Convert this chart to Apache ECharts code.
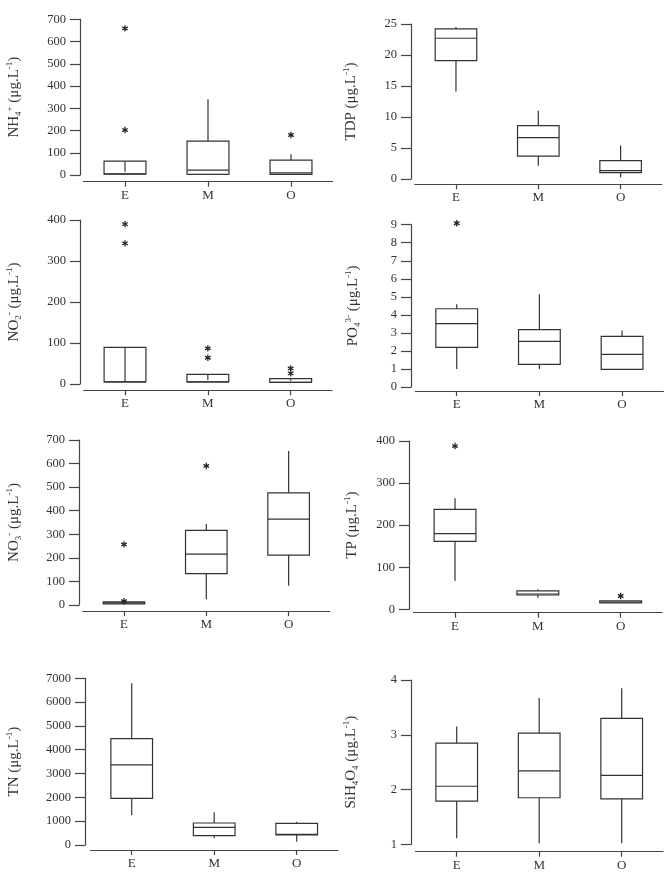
<!DOCTYPE html>
<html>
<head>
<meta charset="utf-8">
<script src="https://cdn.jsdelivr.net/npm/echarts@6/dist/echarts.min.js"></script>
<style>
html,body{margin:0;padding:0;background:#fff;}
#chart{width:667px;height:884px;}
</style>
</head>
<body>
<div id="chart"></div>
<script>
// ---- data ----
const categories = ['E', 'M', 'O'];
// box values per category: [min, Q1, median, Q3, max]
const nh4Box = [[3, 4, 5, 62, 62], [2, 3, 22, 152, 340], [3, 3, 10, 67, 93]];
const nh4Out = [['E', 659], ['E', 202], ['O', 180]];
const nh4Inner = [['E', 15, 62]];

const tdpBox = [[14.1, 19.1, 22.7, 24.2, 24.5], [2.15, 3.7, 6.66, 8.6, 11.0], [0.27, 1.02, 1.34, 2.95, 5.4]];
const tdpOut = [];
const tdpInner = [];

const no2Box = [[5, 5, 5, 89.5, 89.5], [5, 5, 5, 23.6, 23.6], [4, 4, 4, 13, 13]];
const no2Out = [['E', 390], ['E', 343], ['M', 87], ['M', 64], ['O', 38], ['O', 26]];
const no2Inner = [['E', 5, 89.5], ['M', 10, 23.6], ['O', 8, 13]];

const po4Box = [[1.0, 2.2, 3.51, 4.34, 4.59], [1.0, 1.26, 2.53, 3.18, 5.14], [0.98, 0.98, 1.81, 2.81, 3.14]];
const po4Out = [['E', 9.08]];
const po4Inner = [];

const no3Box = [[5, 5, 9, 13, 13], [24, 133, 216, 317, 344], [82, 212, 364, 476, 653]];
const no3Out = [['E', 257], ['E', 16], ['M', 590]];
const no3Inner = [];

const tpBox = [[68, 161.6, 179.7, 237.6, 263.8], [27.6, 34, 36.4, 44, 47.5], [15, 15, 17, 20, 20]];
const tpOut = [['E', 388], ['O', 31.6]];
const tpInner = [];

const tnBox = [[1261, 1961, 3361, 4466, 6793], [280, 392, 742, 924, 1373], [140, 420, 448, 910, 980]];
const tnOut = [];
const tnInner = [];

const siBox = [[1.11, 1.79, 2.06, 2.846, 3.15], [1.02, 1.85, 2.34, 3.03, 3.67], [1.02, 1.83, 2.26, 3.30, 3.85]];
const siOut = [];
const siInner = [];

// axis ranges: [min, max, interval]
const nh4Range = [0, 700, 100];
const tdpRange = [0, 25, 5];
const no2Range = [0, 400, 100];
const po4Range = [0, 9, 1];
const no3Range = [0, 700, 100];
const tpRange = [0, 400, 100];
const tnRange = [0, 7000, 1000];
const siRange = [1, 4, 1];

const UNIT = ' (μg.L{sup|-1})';
const nh4Name = 'NH{sub|4}{sup|+}' + UNIT;
const tdpName = 'TDP' + UNIT;
const no2Name = 'NO{sub|2}{sup|-}' + UNIT;
const po4Name = 'PO{sub|4}{sup|3-}' + UNIT;
const no3Name = 'NO{sub|3}{sup|-}' + UNIT;
const tpName = 'TP' + UNIT;
const tnName = 'TN' + UNIT;
const siName = 'SiH{sub|4}O{sub|4}' + UNIT;

// ---- layout ----
const panels = [
  {name: nh4Name, box: nh4Box, out: nh4Out, inner: nh4Inner, range: nh4Range, grid: {left: 83.5, top: 19.3, width: 249, height: 155.7}, yOff: 3.5, xOff: 6.7, gap: 57},
  {name: tdpName, box: tdpBox, out: tdpOut, inner: tdpInner, range: tdpRange, grid: {left: 414.8, top: 24, width: 247, height: 155}, yOff: 3.8, xOff: 5.3, gap: 51},
  {name: no2Name, box: no2Box, out: no2Out, inner: no2Inner, range: no2Range, grid: {left: 83.6, top: 220, width: 248.5, height: 164}, yOff: 3.6, xOff: 6.3, gap: 57},
  {name: po4Name, box: po4Box, out: po4Out, inner: po4Inner, range: po4Range, grid: {left: 415.4, top: 224.7, width: 248, height: 162.3}, yOff: 4.4, xOff: 4, gap: 49},
  {name: no3Name, box: no3Box, out: no3Out, inner: no3Inner, range: no3Range, grid: {left: 82.8, top: 440, width: 247, height: 165}, yOff: 3.8, xOff: 6, gap: 56},
  {name: tpName, box: tpBox, out: tpOut, inner: tpInner, range: tpRange, grid: {left: 413.6, top: 441, width: 248.5, height: 168.3}, yOff: 4.6, xOff: 3.4, gap: 48},
  {name: tnName, box: tnBox, out: tnOut, inner: tnInner, range: tnRange, grid: {left: 90.45, top: 678.3, width: 247.5, height: 166.7}, yOff: 5.5, xOff: 5, gap: 62},
  {name: siName, box: siBox, out: siOut, inner: siInner, range: siRange, grid: {left: 415.45, top: 680, width: 247.5, height: 164.3}, yOff: 4.5, xOff: 7.4, gap: 51}
];

const FONT = 'Liberation Serif';
const AXIS_COLOR = '#444';
const TEXT_COLOR = '#333';
const LINE_COLOR = '#333';

function boxRender(params, api) {
  const c = api.value(0);
  const mn = api.value(1), q1 = api.value(2), md = api.value(3), q3 = api.value(4), mx = api.value(5);
  const pQ1 = api.coord([c, q1]);
  const pQ3 = api.coord([c, q3]);
  const pMd = api.coord([c, md]);
  const pMn = api.coord([c, mn]);
  const pMx = api.coord([c, mx]);
  const bw = api.size([1, 0])[0] * 0.505;
  const cx = pQ1[0];
  const st = {stroke: LINE_COLOR, lineWidth: 1.2, fill: null};
  const children = [
    {type: 'rect', shape: {x: cx - bw / 2, y: pQ3[1], width: bw, height: Math.max(pQ1[1] - pQ3[1], 0.5)}, style: {stroke: LINE_COLOR, lineWidth: 1.2, fill: 'rgba(0,0,0,0)'}},
    {type: 'line', shape: {x1: cx - bw / 2, y1: pMd[1], x2: cx + bw / 2, y2: pMd[1]}, style: st}
  ];
  if (mx > q3) children.push({type: 'line', shape: {x1: cx, y1: pQ3[1], x2: cx, y2: pMx[1]}, style: st});
  if (mn < q1) children.push({type: 'line', shape: {x1: cx, y1: pQ1[1], x2: cx, y2: pMn[1]}, style: st});
  return {type: 'group', children: children};
}

function innerRender(params, api) {
  const c = api.value(0);
  const a = api.coord([c, api.value(1)]);
  const b = api.coord([c, api.value(2)]);
  return {type: 'line', shape: {x1: a[0], y1: a[1], x2: b[0], y2: b[1]}, style: {stroke: LINE_COLOR, lineWidth: 1.2}};
}

function starRender(params, api) {
  const p = api.coord([api.value(0), api.value(1)]);
  const r = 3.2;
  const children = [];
  [90, 30, 150].forEach(function (deg) {
    const a = deg * Math.PI / 180;
    const dx = Math.cos(a) * r, dy = Math.sin(a) * r;
    children.push({type: 'line', shape: {x1: p[0] - dx, y1: p[1] - dy, x2: p[0] + dx, y2: p[1] + dy}, style: {stroke: '#222', lineWidth: 1.3}});
  });
  return {type: 'group', children: children};
}

const grids = [], xAxes = [], yAxes = [], series = [];
panels.forEach(function (p, i) {
  grids.push(Object.assign({containLabel: false}, p.grid));
  xAxes.push({
    type: 'category', gridIndex: i, data: categories, offset: p.xOff,
    axisLine: {show: true, onZero: false, lineStyle: {color: AXIS_COLOR, width: 1.2}},
    axisTick: {show: true, alignWithLabel: true, length: 5, lineStyle: {color: AXIS_COLOR, width: 1.2}},
    axisLabel: {margin: 7, fontSize: 13, fontFamily: FONT, color: TEXT_COLOR},
    splitLine: {show: false}
  });
  yAxes.push({
    type: 'value', gridIndex: i, min: p.range[0], max: p.range[1], interval: p.range[2], offset: p.yOff,
    axisLine: {show: true, lineStyle: {color: AXIS_COLOR, width: 1.2}},
    axisTick: {show: true, length: 10, lineStyle: {color: AXIS_COLOR, width: 1.2}},
    axisLabel: {margin: 14, fontSize: 12.5, fontFamily: FONT, color: TEXT_COLOR, formatter: function (v) { return String(v); }},
    splitLine: {show: false},
    name: p.name, nameLocation: 'middle', nameRotate: 90, nameGap: p.gap,
    nameTextStyle: {
      fontFamily: FONT, fontSize: 15, color: TEXT_COLOR, lineHeight: 18,
      rich: {
        sub: {fontFamily: FONT, fontSize: 9, color: TEXT_COLOR, verticalAlign: 'bottom', lineHeight: 9},
        sup: {fontFamily: FONT, fontSize: 9, color: TEXT_COLOR, verticalAlign: 'top', lineHeight: 9}
      }
    }
  });
  series.push({
    type: 'custom', xAxisIndex: i, yAxisIndex: i, renderItem: boxRender, clip: false,
    encode: {x: 0, y: [1, 2, 3, 4, 5]},
    data: p.box.map(function (b, k) { return [k].concat(b); }),
    silent: true
  });
  if (p.inner.length) series.push({
    type: 'custom', xAxisIndex: i, yAxisIndex: i, renderItem: innerRender, clip: false,
    encode: {x: 0, y: [1, 2]},
    data: p.inner.map(function (d) { return [categories.indexOf(d[0]), d[1], d[2]]; }),
    silent: true
  });
  if (p.out.length) series.push({
    type: 'custom', xAxisIndex: i, yAxisIndex: i, renderItem: starRender, clip: false,
    encode: {x: 0, y: 1},
    data: p.out.map(function (d) { return [categories.indexOf(d[0]), d[1]]; }),
    silent: true
  });
});

const chart = echarts.init(document.getElementById('chart'), null, {renderer: 'canvas'});
chart.setOption({
  animation: false,
  backgroundColor: '#fff',
  grid: grids,
  xAxis: xAxes,
  yAxis: yAxes,
  series: series
});
</script>
</body>
</html>
